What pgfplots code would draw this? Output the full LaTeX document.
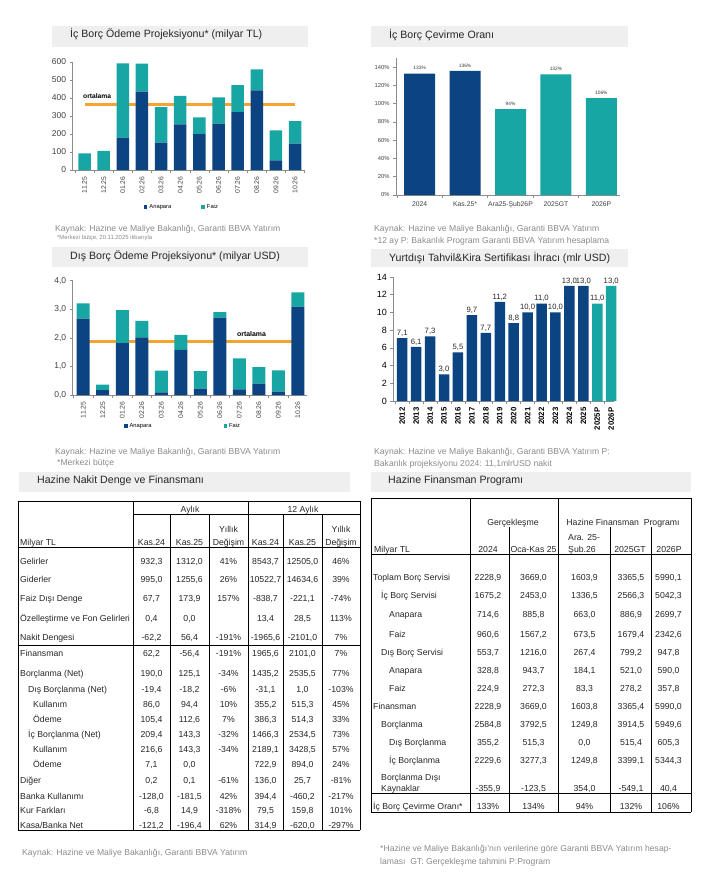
\documentclass[border=0pt]{standalone}
\usepackage{pgfplots}
\pgfplotsset{compat=1.18}
\usepackage{fontspec}
\setmainfont{Liberation Sans}

\definecolor{navy}{HTML}{0B4480}
\definecolor{bteal}{HTML}{17A6A3}
\definecolor{orng}{HTML}{F4A531}
\definecolor{tgray}{HTML}{EFEFEF}
\definecolor{srcgray}{HTML}{8A8A8A}
\definecolor{axgray}{HTML}{8C8C8C}

\newcommand{\fsz}[1]{\fontsize{#1}{#1}\selectfont}

\pgfplotsset{
  bb/.style={scale only axis, anchor=south west, axis lines*=left,
    axis line style={axgray, line width=0.8pt},
    tick style={axgray, line width=0.6pt}, tick align=outside,
    major tick length=3pt, minor tick length=3pt,
    enlargelimits=false, ymin=0, clip=false,
    ticklabel style={text=black!75},
    /pgf/number format/assume math mode=true},
  stk/.style={legend style={draw=none, fill=none, font=\fsz{5.8}, legend columns=2},
    legend image code/.code={\fill[##1] (0pt,-1.8pt) rectangle (3.6pt,1.8pt);}},
}

% row of the first table: baseline, x, label, six values
\newcommand{\rA}[9]{%
  \node[anchor=base west] at (#2pt,-#1pt) {#3};
  \node[anchor=base] at (151.5pt,-#1pt) {#4};
  \node[anchor=base] at (189.5pt,-#1pt) {#5};
  \node[anchor=base] at (228.5pt,-#1pt) {#6};
  \node[anchor=base] at (265.5pt,-#1pt) {#7};
  \node[anchor=base] at (302.5pt,-#1pt) {#8};
  \node[anchor=base] at (341pt,-#1pt) {#9};}
% row of the second table: baseline, x, label, five values
\newcommand{\rB}[8]{%
  \node[anchor=base west] at (#2pt,-#1pt) {#3};
  \node[anchor=base] at (488pt,-#1pt) {#4};
  \node[anchor=base] at (533.5pt,-#1pt) {#5};
  \node[anchor=base] at (584.5pt,-#1pt) {#6};
  \node[anchor=base] at (631pt,-#1pt) {#7};
  \node[anchor=base] at (668.5pt,-#1pt) {#8};}

\begin{document}
\begin{tikzpicture}
\useasboundingbox (0,0) rectangle (711pt,-888pt);

% ---------- title boxes ----------
\fill[tgray] (52pt,-26pt) rectangle (308pt,-47pt);
\fill[tgray] (371pt,-26pt) rectangle (628pt,-47pt);
\fill[tgray] (52pt,-247pt) rectangle (308pt,-267pt);
\fill[tgray] (371pt,-249pt) rectangle (628pt,-267pt);
\fill[tgray] (19pt,-472pt) rectangle (350pt,-492pt);
\fill[tgray] (371pt,-472pt) rectangle (691pt,-492pt);

% ---------- chart 1: ic borc odeme ----------
\begin{axis}[bb, at={(72.7pt,-170pt)}, width=232.3pt, height=108pt,
  ybar stacked, bar width=12.5pt, stk,
  xmin=-0.62, xmax=11.52, ymax=600, ytick={0,100,...,600},
  xtick={0,...,11},
  xticklabels={11.25,12.25,01.26,02.26,03.26,04.26,05.26,06.26,07.26,08.26,09.26,10.26},
  xticklabel style={rotate=90, anchor=east, font=\fsz{6.8}},
  yticklabel style={font=\fsz{8.5}},
  minor xtick={-0.5,0.5,...,11.5}, major x tick style={draw=none},
  legend style={at={(0.47,-0.343)}, anchor=center,
    /tikz/every even column/.append style={column sep=28pt}},
]
\addplot[fill=navy, draw=none] coordinates {(0,0)(1,0)(2,180)(3,435)(4,152)(5,254)(6,200)(7,257)(8,322)(9,442)(10,53)(11,147)};
\addplot[fill=bteal, draw=none] coordinates {(0,93)(1,106)(2,412)(3,156)(4,198)(5,158)(6,92)(7,146)(8,150)(9,117)(10,167)(11,125)};
\addplot[draw=orng, line width=2.4pt, sharp plot, stack plots=false, forget plot] coordinates {(0,364)(11,364)};
\legend{Anapara, Faiz}
\end{axis}

% ---------- chart 2: ic borc cevirme orani ----------
\begin{axis}[bb, at={(396pt,-195pt)}, width=224pt, height=137pt,
  ybar, bar width=31pt, bar shift=0pt,
  xmin=-0.52, xmax=4.41, ymax=150, ytick={0,20,...,140},
  yticklabel={\pgfmathprintnumber{\tick}\%},
  xtick={0,...,4}, xticklabels={2024,Kas.25*,Ara25-Şub26P,2025GT,2026P},
  xticklabel style={font=\fsz{6.8}}, yticklabel style={font=\fsz{5.8}},
  minor xtick={-0.5,0.5,...,4.5}, major x tick style={draw=none},
  nodes near coords={\pgfmathprintnumber{\pgfplotspointmeta}\%},
  every node near coord/.append style={font=\fsz{4.8}, text=black!80},
]
\addplot[fill=navy, draw=none] coordinates {(0,133)(1,136)};
\addplot[fill=bteal, draw=none] coordinates {(2,94)(3,132)(4,106)};
\end{axis}

% ---------- chart 3: dis borc odeme ----------
\begin{axis}[bb, at={(72.7pt,-395pt)}, width=234.3pt, height=114.3pt,
  ybar stacked, bar width=13pt, stk,
  xmin=-0.54, xmax=11.47, ymax=4, ytick={0,1,...,4},
  yticklabel style={font=\fsz{8.5}, /pgf/number format/.cd, fixed, fixed zerofill, precision=1, use comma},
  xtick={0,...,11},
  xticklabels={11.25,12.25,01.26,02.26,03.26,04.26,05.26,06.26,07.26,08.26,09.26,10.26},
  xticklabel style={rotate=90, anchor=east, font=\fsz{6.8}},
  minor xtick={-0.5,0.5,...,11.5}, major x tick style={draw=none},
  legend style={at={(0.471,-0.271)}, anchor=center,
    /tikz/every even column/.append style={column sep=70pt}},
]
\addplot[fill=navy, draw=none] coordinates {(0,2.67)(1,0.17)(2,1.82)(3,2.02)(4,0.09)(5,1.58)(6,0.22)(7,2.71)(8,0.20)(9,0.40)(10,0.12)(11,3.09)};
\addplot[fill=bteal, draw=none] coordinates {(0,0.54)(1,0.19)(2,1.15)(3,0.57)(4,0.76)(5,0.52)(6,0.62)(7,0.19)(8,1.08)(9,0.58)(10,0.74)(11,0.50)};
\addplot[draw=orng, line width=2.4pt, sharp plot, stack plots=false, forget plot] coordinates {(0,1.87)(11,1.87)};
\legend{Anapara, Faiz}
\end{axis}

% ---------- chart 4: yurtdisi tahvil ----------
\begin{axis}[bb, at={(393.3pt,-401pt)}, width=220.7pt, height=124pt,
  ybar, bar width=10.5pt, bar shift=0pt,
  xmin=-0.64, xmax=15.2, ymax=14, ytick={0,2,...,14},
  xtick={0,...,15},
  xticklabels={2012,2013,2014,2015,2016,2017,2018,2019,2020,2021,2022,2023,2024,2025,2025P,2026P},
  xticklabel style={rotate=90, anchor=east, font=\bfseries\fsz{7.8}, text=black},
  yticklabel style={font=\fsz{9}, text=black},
  minor xtick={-0.5,0.5,...,15.5}, major x tick style={draw=none},
  nodes near coords={\pgfmathprintnumber[fixed, fixed zerofill, precision=1, use comma]{\pgfplotspointmeta}},
  every node near coord/.append style={font=\fsz{7.7}, text=black!85, inner sep=1.5pt},
]
\addplot[fill=navy, draw=none] coordinates {(0,7.1)(1,6.1)(2,7.3)(3,3.0)(4,5.5)(5,9.7)(6,7.7)(7,11.2)(8,8.8)(9,10.0)(10,11.0)(11,10.0)(12,13.0)(13,13.0)};
\addplot[fill=bteal, draw=none] coordinates {(14,11.0)(15,13.0)};
\end{axis}

\begin{scope}[every node/.append style={inner sep=0pt}]
% ---------- titles ----------
\begin{scope}[every node/.append style={font=\fsz{10.6}, text=black!85}]
\node[anchor=base west] at (70pt,-38pt) {İç Borç Ödeme Projeksiyonu* (milyar TL)};
\node[anchor=base west] at (389pt,-39pt) {İç Borç Çevirme Oranı};
\node[anchor=base west] at (70pt,-259pt) {Dış Borç Ödeme Projeksiyonu* (milyar USD)};
\node[anchor=base west] at (389pt,-261pt) {Yurtdışı Tahvil\&Kira Sertifikası İhracı (mlr USD)};
\node[anchor=base west] at (37pt,-483pt) {Hazine Nakit Denge ve Finansmanı};
\node[anchor=base west] at (388pt,-483pt) {Hazine Finansman Programı};
\end{scope}

\node[anchor=base west, font=\bfseries\fsz{6.7}] at (83pt,-98.5pt) {ortalama};
\node[anchor=base west, font=\bfseries\fsz{6.9}] at (237pt,-336.5pt) {ortalama};

% ---------- sources ----------
\begin{scope}[every node/.append style={font=\fsz{8.6}, text=srcgray, anchor=base west}]
\node at (55pt,-231pt) {Kaynak: Hazine ve Maliye Bakanlığı, Garanti BBVA Yatırım};
\node[font=\fsz{5.9}] at (57pt,-239.5pt) {*Merkezi bütçe, 20.11.2025 itibarıyla};
\node at (374pt,-231pt) {Kaynak: Hazine ve Maliye Bakanlığı, Garanti BBVA Yatırım};
\node at (374pt,-243pt) {*12 ay P: Bakanlık Program Garanti BBVA Yatırım hesaplama};
\node at (55pt,-454pt) {Kaynak: Hazine ve Maliye Bakanlığı, Garanti BBVA Yatırım};
\node at (57pt,-465pt) {*Merkezi bütçe};
\node[text width=251pt, align=justify] at (374pt,-454pt) {Kaynak: Hazine ve Maliye Bakanlığı, Garanti BBVA Yatırım P:};
\node at (374pt,-466pt) {Bakanlık projeksiyonu 2024: 11,1mlrUSD nakit};
\node at (22pt,-855pt) {Kaynak: Hazine ve Maliye Bakanlığı, Garanti BBVA Yatırım};
\node at (380pt,-851pt) {*Hazine ve Maliye Bakanlığı'nın verilerine göre Garanti BBVA Yatırım hesap-};
\node at (380pt,-864pt) {laması\ \ GT: Gerçekleşme tahmini P:Program};
\end{scope}

% ---------- table 1 ----------
\begin{scope}[line width=0.9pt]
\draw (18pt,-501pt) -- (360pt,-501pt);
\draw (133pt,-514pt) -- (360pt,-514pt);
\draw (18pt,-547pt) -- (360pt,-547pt);
\draw (18pt,-645pt) -- (360pt,-645pt);
\draw (18pt,-830pt) -- (360pt,-830pt);
\foreach \x in {18,133,248,360} \draw (\x pt,-501pt) -- (\x pt,-830pt);
\foreach \x in {170,209,283,322} \draw (\x pt,-514pt) -- (\x pt,-830pt);
\end{scope}
\begin{scope}[every node/.append style={font=\fsz{8.7}, text=black!85}]
\node[anchor=base] at (190pt,-512pt) {Aylık};
\node[anchor=base] at (303pt,-512pt) {12 Aylık};
\node[anchor=base] at (228.5pt,-532pt) {Yıllık};
\node[anchor=base] at (341pt,-532pt) {Yıllık};
\rA{545}{20}{Milyar TL}{Kas.24}{Kas.25}{Değişim}{Kas.24}{Kas.25}{Değişim}
\rA{564}{20}{Gelirler}{932,3}{1312,0}{41\%}{8543,7}{12505,0}{46\%}
\rA{582}{20}{Giderler}{995,0}{1255,6}{26\%}{10522,7}{14634,6}{39\%}
\rA{601}{20}{Faiz Dışı Denge}{67,7}{173,9}{157\%}{-838,7}{-221,1}{-74\%}
\rA{621}{20}{Özelleştirme ve Fon Gelirleri}{0,4}{0,0}{}{13,4}{28,5}{113\%}
\rA{640}{20}{Nakit Dengesi}{-62,2}{56,4}{-191\%}{-1965,6}{-2101,0}{7\%}
\rA{656}{20}{Finansman}{62,2}{-56,4}{-191\%}{1965,6}{2101,0}{7\%}
\rA{676}{20}{Borçlanma (Net)}{190,0}{125,1}{-34\%}{1435,2}{2535,5}{77\%}
\rA{692}{28}{Dış Borçlanma (Net)}{-19,4}{-18,2}{-6\%}{-31,1}{1,0}{-103\%}
\rA{707}{33}{Kullanım}{86,0}{94,4}{10\%}{355,2}{515,3}{45\%}
\rA{722}{33}{Ödeme}{105,4}{112,6}{7\%}{386,3}{514,3}{33\%}
\rA{737}{28}{İç Borçlanma (Net)}{209,4}{143,3}{-32\%}{1466,3}{2534,5}{73\%}
\rA{752}{33}{Kullanım}{216,6}{143,3}{-34\%}{2189,1}{3428,5}{57\%}
\rA{767}{33}{Ödeme}{7,1}{0,0}{}{722,9}{894,0}{24\%}
\rA{783}{20}{Diğer}{0,2}{0,1}{-61\%}{136,0}{25,7}{-81\%}
\rA{799}{20}{Banka Kullanımı}{-128,0}{-181,5}{42\%}{394,4}{-460,2}{-217\%}
\rA{813}{20}{Kur Farkları}{-6,8}{14,9}{-318\%}{79,5}{159,8}{101\%}
\rA{828}{20}{Kasa/Banka Net}{-121,2}{-196,4}{62\%}{314,9}{-620,0}{-297\%}
\end{scope}

% ---------- table 2 ----------
\begin{scope}[line width=0.9pt]
\draw (371pt,-498pt) -- (691pt,-498pt);
\draw (371pt,-554pt) -- (691pt,-554pt);
\draw (371pt,-793pt) -- (691pt,-793pt);
\draw (371pt,-812pt) -- (691pt,-812pt);
\foreach \x in {371,470,558,691} \draw (\x pt,-498pt) -- (\x pt,-812pt);
\foreach \x in {509,610,651} \draw (\x pt,-527pt) -- (\x pt,-812pt);
\end{scope}
\begin{scope}[every node/.append style={font=\fsz{8.7}, text=black!85}]
\node[anchor=base] at (513pt,-525pt) {Gerçekleşme};
\node[anchor=base] at (623pt,-525pt) {Hazine Finansman\ \ Programı};
\node[anchor=base west] at (568pt,-540pt) {Ara. 25-};
\node[anchor=base west] at (568pt,-552pt) {Şub.26};
\node[anchor=base west] at (374pt,-552pt) {Milyar TL};
\node[anchor=base] at (488pt,-552pt) {2024};
\node[anchor=base] at (533.5pt,-552pt) {Oca-Kas 25};
\node[anchor=base] at (630pt,-552pt) {2025GT};
\node[anchor=base] at (669pt,-552pt) {2026P};
\rB{580}{373}{Toplam Borç Servisi}{2228,9}{3669,0}{1603,9}{3365,5}{5990,1}
\rB{598}{381}{İç Borç Servisi}{1675,2}{2453,0}{1336,5}{2566,3}{5042,3}
\rB{617}{389}{Anapara}{714,6}{885,8}{663,0}{886,9}{2699,7}
\rB{637}{389}{Faiz}{960,6}{1567,2}{673,5}{1679,4}{2342,6}
\rB{655}{381}{Dış Borç Servisi}{553,7}{1216,0}{267,4}{799,2}{947,8}
\rB{673}{389}{Anapara}{328,8}{943,7}{184,1}{521,0}{590,0}
\rB{691}{389}{Faiz}{224,9}{272,3}{83,3}{278,2}{357,8}
\rB{709}{373}{Finansman}{2228,9}{3669,0}{1603,8}{3365,4}{5990,0}
\rB{727}{381}{Borçlanma}{2584,8}{3792,5}{1249,8}{3914,5}{5949,6}
\rB{745}{389}{Dış Borçlanma}{355,2}{515,3}{0,0}{515,4}{605,3}
\rB{763}{389}{İç Borçlanma}{2229,6}{3277,3}{1249,8}{3399,1}{5344,3}
\node[anchor=base west] at (381pt,-780pt) {Borçlanma Dışı};
\rB{791}{381}{Kaynaklar}{-355,9}{-123,5}{354,0}{-549,1}{40,4}
\rB{809}{373}{İç Borç Çevirme Oranı*}{133\%}{134\%}{94\%}{132\%}{106\%}
\end{scope}
\end{scope}
\end{tikzpicture}
\end{document}
